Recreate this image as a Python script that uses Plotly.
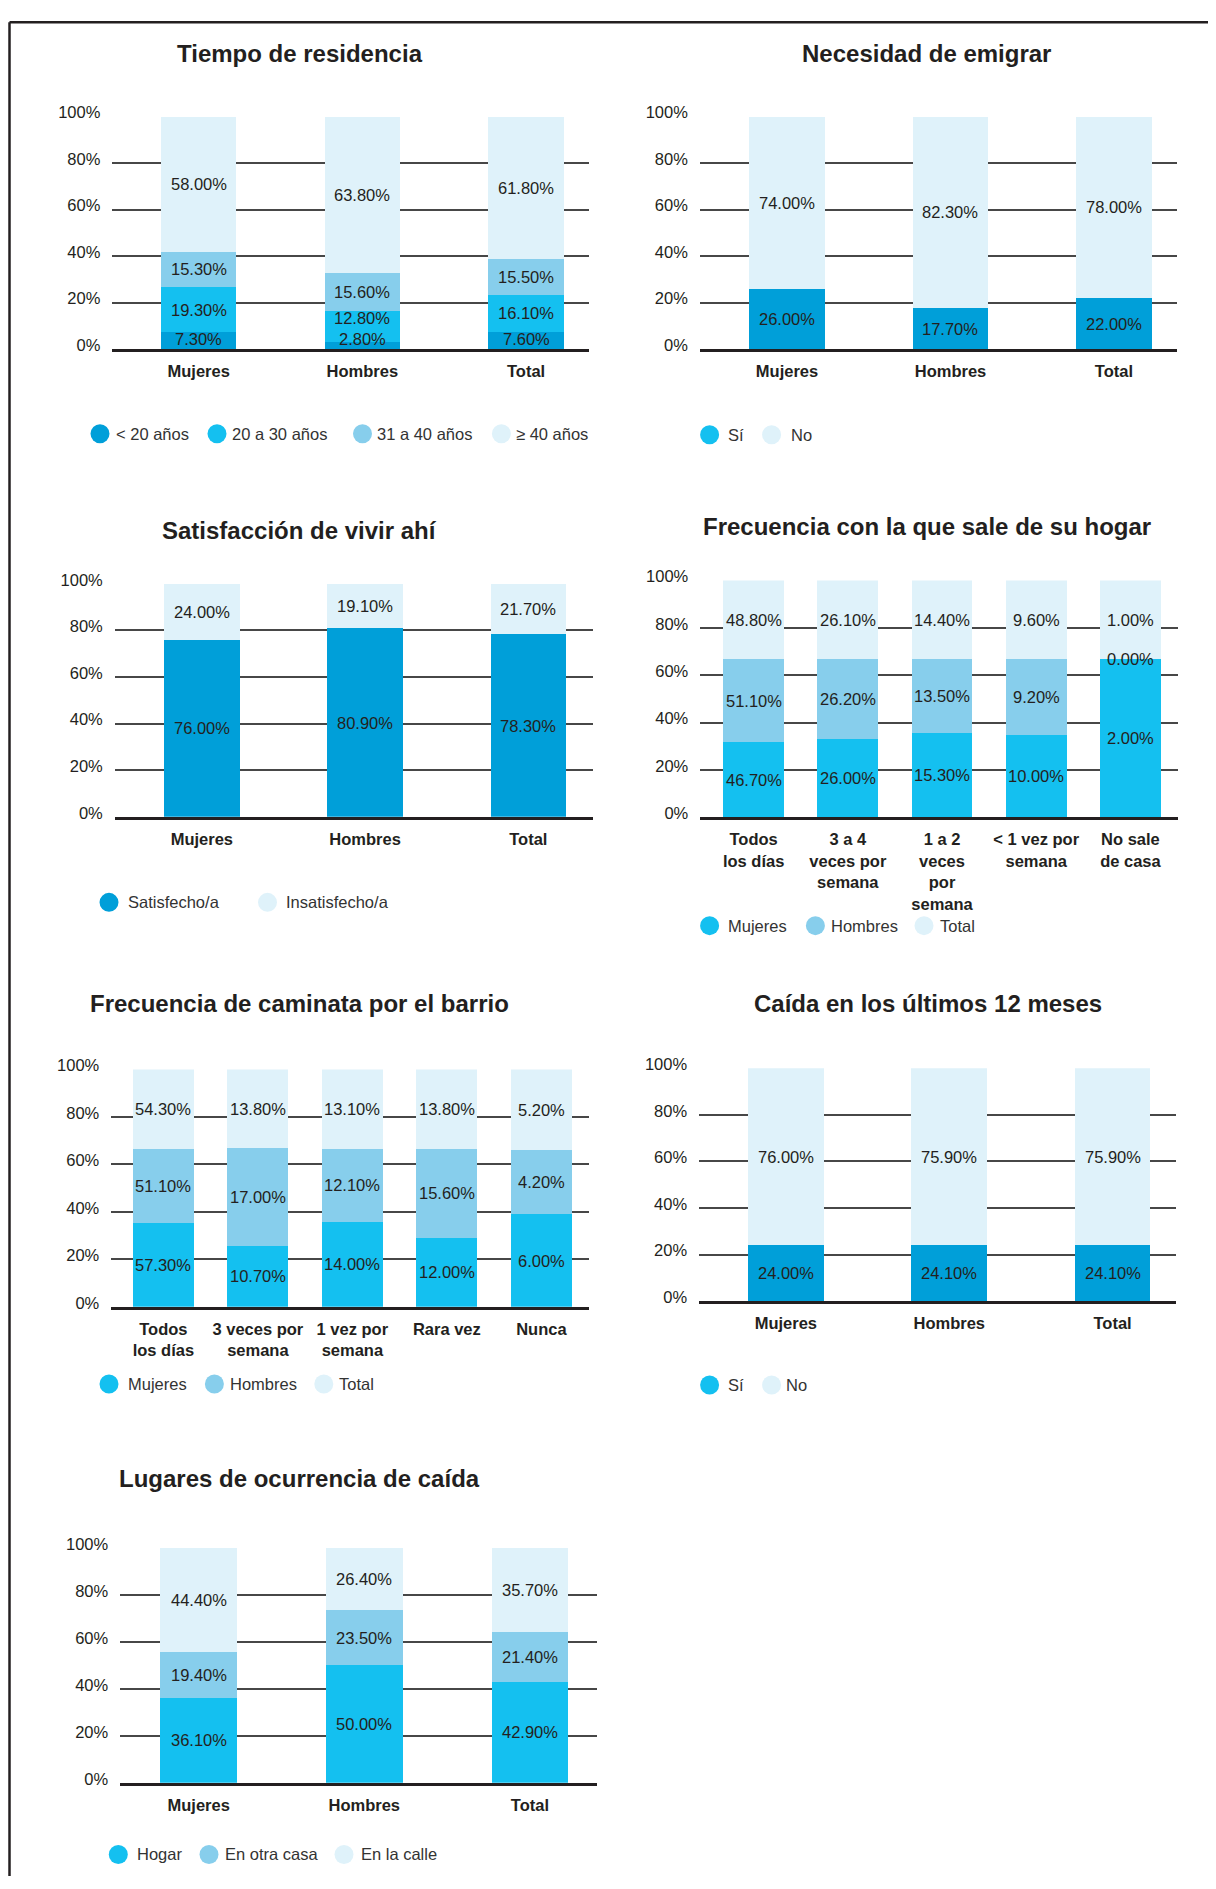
import plotly.graph_objects as go

# The page body keeps its default margin, so the figure is drawn slightly
# smaller and every layout position is given in page pixels, then mapped.
PAGE_W, PAGE_H = 1216, 1889
OFF = 8
W, H = PAGE_W - 2 * OFF, PAGE_H - 2 * OFF
FONT = "Liberation Sans, Arial, sans-serif"
TXT = "#231F20"
C_DARK = "#009FD9"
C_CYAN = "#14C0F0"
C_LIGHT = "#87CEEC"
C_PALE = "#DFF2FA"

# ---------------- data ----------------
cats_sexo = ["Mujeres", "Hombres", "Total"]

tiempo_series = ["< 20 años", "20 a 30 años", "31 a 40 años", "≥ 40 años"]
tiempo_lt20 = [7.3, 2.8, 7.6]
tiempo_20_30 = [19.3, 12.8, 16.1]
tiempo_31_40 = [15.3, 15.6, 15.5]
tiempo_ge40 = [58.0, 63.8, 61.8]

si_no = ["Sí", "No"]
emigrar_si = [26.0, 17.7, 22.0]
emigrar_no = [74.0, 82.3, 78.0]

satisf_series = ["Satisfecho/a", "Insatisfecho/a"]
satisf_si = [76.0, 80.9, 78.3]
satisf_no = [24.0, 19.1, 21.7]

sexo_series = ["Mujeres", "Hombres", "Total"]
sale_cats = ["Todos\nlos días", "3 a 4\nveces por\nsemana", "1 a 2\nveces\npor\nsemana",
             "< 1 vez por\nsemana", "No sale\nde casa"]
sale_muj = [46.7, 26.0, 15.3, 10.0, 2.0]
sale_hom = [51.1, 26.2, 13.5, 9.2, 0.0]
sale_tot = [48.8, 26.1, 14.4, 9.6, 1.0]

camin_cats = ["Todos\nlos días", "3 veces por\nsemana", "1 vez por\nsemana", "Rara vez", "Nunca"]
camin_muj = [57.3, 10.7, 14.0, 12.0, 6.0]
camin_hom = [51.1, 17.0, 12.1, 15.6, 4.2]
camin_tot = [54.3, 13.8, 13.1, 13.8, 5.2]

caida_si = [24.0, 24.1, 24.1]
caida_no = [76.0, 75.9, 75.9]

lugar_series = ["Hogar", "En otra casa", "En la calle"]
lugar_hogar = [36.1, 50.0, 42.9]
lugar_otra = [19.4, 23.5, 21.4]
lugar_calle = [44.4, 26.4, 35.7]

y_ticks = [0, 20, 40, 60, 80, 100]


def fmt(s):
    return s.replace("<", "&lt;").replace("\n", "<br>")


def PX(x):
    return (x - OFF) / W


def PY(y):
    fy = 1.0084 * y - 19.36
    fy = min(max(fy, 1.25), H)
    return 1 - fy / H


# ---------------- panel layout (page pixels) ----------------
panels = [
    dict(title="Tiempo de residencia", tx=300, ty=52, cats=cats_sexo,
         series=[(tiempo_lt20, C_DARK), (tiempo_20_30, C_CYAN), (tiempo_31_40, C_LIGHT), (tiempo_ge40, C_PALE)],
         xpx=(112.4, 589.4), ypx=(115, 347.7), xr=(-0.527, 2.387), bw=0.462,
         leg=list(zip(tiempo_series, [C_DARK, C_CYAN, C_LIGHT, C_PALE], [100, 217, 362.5, 501.4],
                      [114, 230, 375, 514])), ly=432.5),
    dict(title="Necesidad de emigrar", tx=926, ty=52, cats=cats_sexo,
         series=[(emigrar_si, C_DARK), (emigrar_no, C_PALE)],
         xpx=(699.9, 1177.2), ypx=(115, 347.7), xr=(-0.533, 2.387), bw=0.462,
         leg=list(zip(si_no, [C_CYAN, C_PALE], [709.6, 771.6], [726, 789])), ly=433.5),
    dict(title="Satisfacción de vivir ahí", tx=299, ty=529.5, cats=cats_sexo,
         series=[(satisf_si, C_DARK), (satisf_no, C_PALE)],
         xpx=(114.8, 592.5), ypx=(582.7, 816), xr=(-0.533, 2.393), bw=0.462,
         leg=list(zip(satisf_series, [C_DARK, C_PALE], [109, 267.5], [126, 284])), ly=901.7),
    dict(title="Frecuencia con la que sale de su hogar", tx=926.5, ty=525, cats=sale_cats,
         series=[(sale_muj, C_CYAN), (sale_hom, C_LIGHT), (sale_tot, C_PALE)],
         xpx=(700.3, 1178), ypx=(579.3, 816.7), xr=(-0.566, 4.505), bw=0.646,
         leg=list(zip(sexo_series, [C_CYAN, C_LIGHT, C_PALE], [709.6, 815.4, 924], [726, 828.5, 938])), ly=925),
    dict(title="Frecuencia de caminata por el barrio", tx=299, ty=1002.7, cats=camin_cats,
         series=[(camin_muj, C_CYAN), (camin_hom, C_LIGHT), (camin_tot, C_PALE)],
         xpx=(111.3, 588.6), ypx=(1069, 1306.7), xr=(-0.551, 4.5), bw=0.646,
         leg=list(zip(sexo_series, [C_CYAN, C_LIGHT, C_PALE], [109, 214.4, 323.8], [125.5, 227.5, 337])), ly=1384),
    dict(title="Caída en los últimos 12 meses", tx=927.5, ty=1002.7, cats=cats_sexo,
         series=[(caida_si, C_DARK), (caida_no, C_PALE)],
         xpx=(699.1, 1176), ypx=(1067.7, 1301), xr=(-0.531, 2.388), bw=0.462,
         leg=list(zip(si_no, [C_CYAN, C_PALE], [709.6, 771.6], [726, 784])), ly=1385),
    dict(title="Lugares de ocurrencia de caída", tx=299.2, ty=1478.3, cats=cats_sexo,
         series=[(lugar_hogar, C_CYAN), (lugar_otra, C_LIGHT), (lugar_calle, C_PALE)],
         xpx=(120.2, 597.1), ypx=(1548, 1783.3), xr=(-0.474, 2.406), bw=0.462,
         leg=list(zip(lugar_series, [C_CYAN, C_LIGHT, C_PALE], [118.3, 209, 344], [135, 223, 359])), ly=1855),
]

fig = go.Figure()
annotations = []
shapes = []
layout_axes = {}

for i, p in enumerate(panels, start=1):
    xn = "x" if i == 1 else f"x{i}"
    yn = "y" if i == 1 else f"y{i}"
    xk = "xaxis" if i == 1 else f"xaxis{i}"
    yk = "yaxis" if i == 1 else f"yaxis{i}"
    cats = p["cats"]

    for vals, col in p["series"]:
        fig.add_trace(go.Bar(x=cats, y=vals, marker=dict(color=col, line=dict(width=0)),
                             width=p["bw"], xaxis=xn, yaxis=yn, showlegend=False,
                             hoverinfo="x+y"))

    # value labels centred in each (normalised) segment
    for ci, c in enumerate(cats):
        vs = [s[0][ci] for s in p["series"]]
        tot = sum(vs)
        cum = 0
        prev = None
        for v in vs:
            nv = v / tot * 100
            yc = cum + nv / 2
            cum += nv
            if prev is None:
                yc = max(yc, 4.5)
            else:
                yc = max(yc, prev + 9)
            prev = yc
            annotations.append(dict(x=c, y=yc, xref=xn, yref=yn, text=f"{v:.2f}%",
                                    showarrow=False, xanchor="center", yanchor="middle",
                                    font=dict(size=16.5, color=TXT, family=FONT)))

    x0, x1 = p["xpx"]
    y0, y1 = p["ypx"]
    layout_axes[xk] = dict(domain=[PX(x0), PX(x1)], anchor=yn, range=list(p["xr"]),
                           type="category", tickmode="array", tickvals=cats,
                           ticktext=[fmt(c) for c in cats], showgrid=False, zeroline=False,
                           showline=True, linecolor=TXT, linewidth=3, ticks="",
                           ticklabelstandoff=5,
                           tickfont=dict(size=16.5, color=TXT, family=FONT, weight="bold"),
                           fixedrange=True)
    layout_axes[yk] = dict(domain=[PY(y1), PY(y0)], anchor=xn, range=[0, 100],
                           tickmode="array", tickvals=y_ticks, ticktext=[f"{t}%" for t in y_ticks],
                           showgrid=True, gridcolor="#474747", gridwidth=1.5, zeroline=False,
                           showline=False, ticks="", ticklabelstandoff=11, ticklabelshift=-4,
                           tickfont=dict(size=16.5, color=TXT, family=FONT), fixedrange=True)

    annotations.append(dict(x=PX(p["tx"]), y=PY(p["ty"]), xref="paper", yref="paper",
                            text=p["title"], showarrow=False, xanchor="center", yanchor="middle",
                            font=dict(size=24, color=TXT, family=FONT, weight="bold")))

    for name, col, cx, tx in p["leg"]:
        shapes.append(dict(type="circle", xref="paper", yref="paper",
                           xsizemode="pixel", ysizemode="pixel",
                           xanchor=PX(cx), yanchor=PY(p["ly"]),
                           x0=-9.5, x1=9.5, y0=-9.5, y1=9.5,
                           fillcolor=col, line=dict(width=0)))
        annotations.append(dict(x=PX(tx), y=PY(p["ly"]), xref="paper", yref="paper",
                                text=fmt(name), showarrow=False, xanchor="left", yanchor="middle",
                                font=dict(size=16.5, color="#333333", family=FONT)))

# page frame (top and left rules)
top_y = PY(6.7)
shapes.append(dict(type="line", xref="paper", yref="paper", x0=PX(9.5), x1=1.0,
                   y0=top_y, y1=top_y, line=dict(color=TXT, width=2.5)))
shapes.append(dict(type="line", xref="paper", yref="paper", x0=PX(9.5), x1=PX(9.5),
                   y0=0, y1=top_y, line=dict(color=TXT, width=2.5)))

fig.update_layout(
    width=W, height=H, margin=dict(l=0, r=0, t=0, b=0),
    paper_bgcolor="white", plot_bgcolor="white",
    barmode="stack", barnorm="percent", bargap=0.3,
    font=dict(family=FONT, color=TXT),
    annotations=annotations, shapes=shapes, showlegend=False,
    **layout_axes,
)

fig.write_html("out.html")
